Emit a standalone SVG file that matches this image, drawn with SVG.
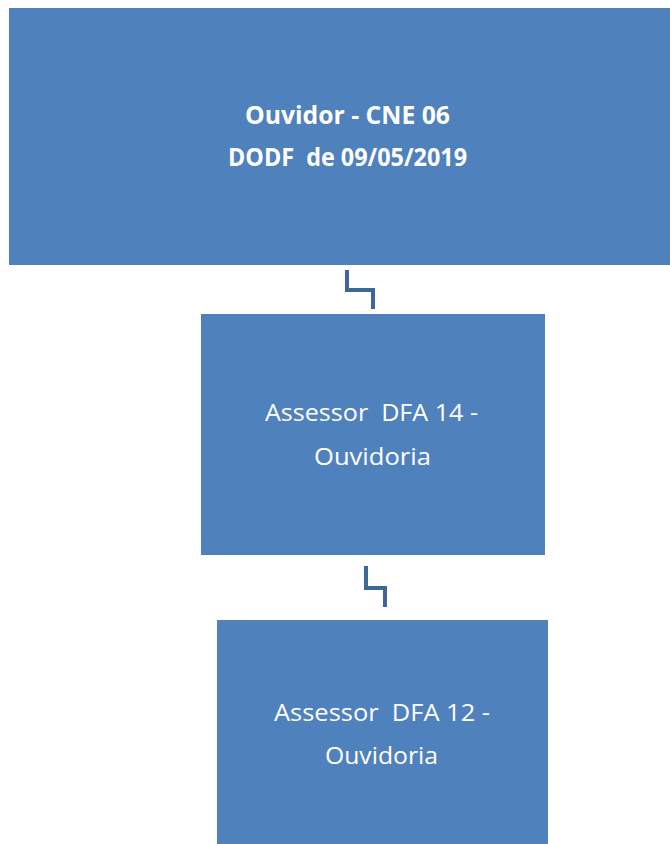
<svg xmlns="http://www.w3.org/2000/svg" width="670" height="844" viewBox="0 0 670 844">
<style>
.box{fill:#4F81BD;}
.t{fill:#ffffff;font-family:"Open Sans","Liberation Sans",sans-serif;text-anchor:middle;white-space:pre;}
.b{font-weight:bold;font-size:24.5px;}
.n{font-size:24.5px;}
.c{fill:none;stroke:#3E6797;stroke-width:4;stroke-linejoin:miter;}
</style>
<rect width="670" height="844" fill="#ffffff"/>
<g id="node-ouvidor">
<rect class="box" x="9" y="8" width="680" height="257"/>
<text class="t b" x="347.5" y="124" textLength="205" lengthAdjust="spacingAndGlyphs">Ouvidor - CNE 06</text>
<text class="t b" x="347.5" y="166" xml:space="preserve" textLength="239" lengthAdjust="spacingAndGlyphs">DODF  de 09/05/2019</text>
</g>
<g id="node-dfa14">
<rect class="box" x="201" y="314" width="344" height="241"/>
<text class="t n" x="371.5" y="421" xml:space="preserve" textLength="213" lengthAdjust="spacingAndGlyphs">Assessor  DFA 14 -</text>
<text class="t n" x="372.5" y="465" textLength="117" lengthAdjust="spacingAndGlyphs">Ouvidoria</text>
</g>
<g id="node-dfa12">
<rect class="box" x="217" y="620" width="331" height="230"/>
<text class="t n" x="382" y="721" xml:space="preserve" textLength="216" lengthAdjust="spacingAndGlyphs">Assessor  DFA 12 -</text>
<text class="t n" x="381.5" y="764" textLength="113" lengthAdjust="spacingAndGlyphs">Ouvidoria</text>
</g>
<g id="connectors">
<path class="c" d="M347 270 V290 H373 V309"/>
<path class="c" d="M366 566 V588 H385 V607"/>
</g>
</svg>
